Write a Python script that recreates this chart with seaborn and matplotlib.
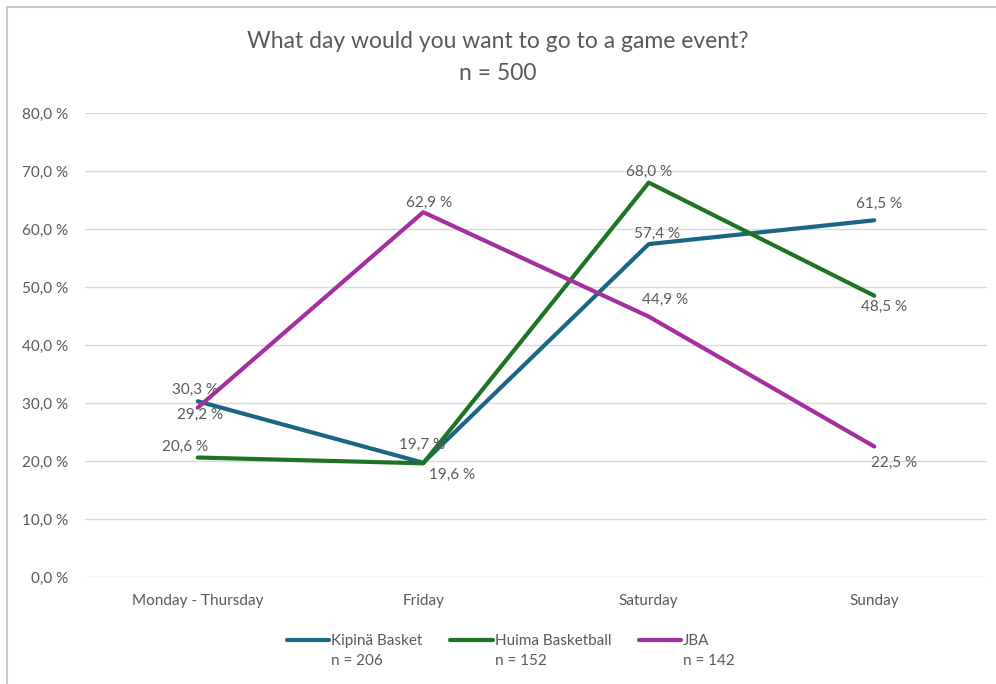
import matplotlib
matplotlib.use("Agg")
import matplotlib.pyplot as plt
import seaborn as sns
import pandas as pd
from matplotlib.patches import Rectangle
from matplotlib.lines import Line2D

days = ["Monday - Thursday", "Friday", "Saturday", "Sunday"]
kipina = [30.3, 19.7, 57.4, 61.5]
huima = [20.6, 19.6, 68.0, 48.5]
jba = [29.2, 62.9, 44.9, 22.5]
series_names = ["Kipinä Basket", "Huima Basketball", "JBA"]
series_n = ["n = 206", "n = 152", "n = 142"]
colors = ["#1B6585", "#1E7424", "#A4309F"]
title = "What day would you want to go to a game event?\nn = 500"
yticks = [0, 10, 20, 30, 40, 50, 60, 70, 80]

sns.set_theme(style="white")
plt.rcParams['font.family'] = ['Lato', 'DejaVu Sans']
txt = "#595959"
fs = 11

rows = []
for name, vals in zip(series_names, [kipina, huima, jba]):
    for i, (d, v) in enumerate(zip(days, vals)):
        rows.append({"day": d, "x": i, "value": v, "series": name})
df = pd.DataFrame(rows)

fig = plt.figure(figsize=(9.96, 6.84), dpi=100)
ax = fig.add_axes([85/996, 1-577/684, (987-85)/996, (577-113)/684])

sns.lineplot(data=df, x="x", y="value", hue="series", palette=colors,
             linewidth=3, ax=ax, sort=False, legend=True)

ax.set_xlim(-0.5, 3.5)
ax.set_ylim(0, 80)
ax.set_yticks(yticks)
ax.set_yticklabels([f"{t:.1f} %".replace(".", ",") for t in yticks], color=txt, fontsize=fs)
ax.set_xticks(range(len(days)))
ax.set_xticklabels(days, color=txt, fontsize=fs)
ax.tick_params(axis="y", length=0, pad=12)
ax.tick_params(axis="x", length=0, pad=12)
ax.set_xlabel("")
ax.set_ylabel("")
ax.yaxis.grid(True, color="#D9D9D9", linewidth=1)
ax.set_axisbelow(True)
for s in ax.spines.values():
    s.set_visible(False)

# data label offsets in points
offsets = {
    0: [(-2, 8), (-1, 13), (6, 7.5), (3.5, 12)],
    1: [(-9, 7.5), (21, -8), (0, 8), (7, -8)],
    2: [(2, -5), (4, 7), (12, 12), (14, -12)],
}
for si, vals in enumerate([kipina, huima, jba]):
    for i, v in enumerate(vals):
        dx, dy = offsets[si][i]
        ax.annotate(f"{v:.1f} %".replace(".", ","), (i, v), xytext=(dx, dy),
                    textcoords="offset points", ha="center", va="center",
                    color=txt, fontsize=fs)

handles, labels = ax.get_legend_handles_labels()
leg_handles, leg_labels = [], []
for h, lab, n in zip(handles, labels, series_n):
    leg_handles += [h, Line2D([], [], color="none")]
    leg_labels += [lab, n]
ax.legend(leg_handles, leg_labels, loc="upper center", bbox_to_anchor=(0.472, -0.094),
          ncol=3, frameon=False, fontsize=fs, labelcolor=txt,
          handlelength=2.8, handletextpad=0.12, columnspacing=1.8, labelspacing=0.4)

fig.suptitle(title, y=1-31/684, va="top", color=txt, fontsize=16.5, linespacing=1.65)

fig.patches.append(Rectangle((7/996, -0.1), 1.2, 1.1 - 7/684, transform=fig.transFigure,
                             fill=False, edgecolor="#C8C8C8", linewidth=1.5))

fig.savefig("out.png", dpi=100)
